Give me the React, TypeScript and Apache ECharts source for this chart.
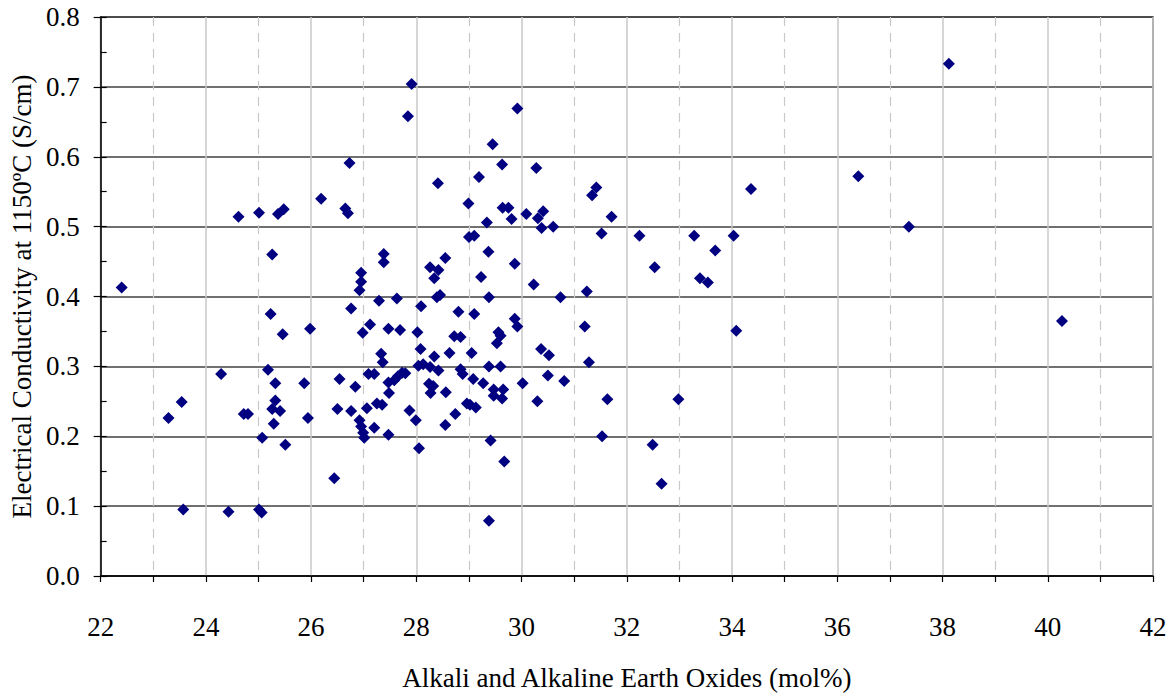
import React, { useEffect, useRef } from "react";
import * as echarts from "echarts";

// Alkali and alkaline earth oxides (mol%)
const oxides: number[] = [
  22.40, 23.29, 23.54, 23.57, 24.29, 24.43, 24.62, 24.72, 24.80, 25.01,
  25.01, 25.06, 25.07, 25.18, 25.23, 25.26, 25.26, 25.29, 25.32, 25.32,
  25.37, 25.41, 25.46, 25.48, 25.51, 25.87, 25.94, 25.98,
  26.19, 26.44, 26.50, 26.54, 26.65, 26.70, 26.73, 26.76, 26.76, 26.84,
  26.92, 26.95, 26.95, 26.92, 26.98, 26.95, 26.99, 27.01, 27.06, 27.09,
  27.12, 27.20, 27.20, 27.25, 27.29, 27.33, 27.36, 27.35, 27.38, 27.38,
  27.47, 27.47, 27.48, 27.47, 27.58, 27.65, 27.73, 27.79, 27.63, 27.69,
  27.84, 27.87, 27.91, 27.99, 28.02, 28.04, 28.05, 28.08, 28.09, 28.13,
  28.24, 28.26, 28.26, 28.27, 28.32, 28.34, 28.34, 28.39, 28.41, 28.42,
  28.42, 28.45, 28.55, 28.56, 28.55, 28.63, 28.72, 28.74, 28.80, 28.84,
  28.84, 28.88, 28.96, 28.99, 29.00, 29.02, 29.05, 29.10, 29.10, 29.08,
  29.13, 29.19, 29.23, 29.27, 29.34, 29.37, 29.38, 29.38, 29.41, 29.38,
  29.45, 29.47, 29.47, 29.53, 29.56, 29.60, 29.60, 29.63, 29.64, 29.65,
  29.63, 29.67, 29.75, 29.81, 29.87, 29.87, 29.92, 29.92, 30.02, 30.09,
  30.23, 30.28, 30.30, 30.31, 30.37, 30.38, 30.41, 30.50, 30.52, 30.60,
  30.74, 30.81, 31.20, 31.24, 31.28, 31.34, 31.42, 31.52, 31.53, 31.63,
  31.71, 32.24, 32.49, 32.53, 32.66, 32.98, 33.28, 33.39, 33.54, 33.68,
  34.03, 34.08, 34.36, 36.40, 37.36, 38.12, 40.27,
];

// Electrical conductivity at 1150 ºC (S/cm)
const conductivity: number[] = [
  0.413, 0.226, 0.249, 0.095, 0.289, 0.092, 0.514, 0.232, 0.232, 0.520,
  0.095, 0.091, 0.198, 0.295, 0.375, 0.460, 0.239, 0.218, 0.276, 0.251,
  0.518, 0.236, 0.346, 0.525, 0.188, 0.276, 0.226, 0.354,
  0.540, 0.140, 0.239, 0.282, 0.526, 0.519, 0.591, 0.383, 0.236, 0.271,
  0.223, 0.434, 0.421, 0.409, 0.348, 0.214, 0.205, 0.198, 0.240, 0.289,
  0.360, 0.289, 0.212, 0.247, 0.394, 0.318, 0.306, 0.245, 0.461, 0.449,
  0.354, 0.277, 0.262, 0.202, 0.280, 0.286, 0.291, 0.290, 0.397, 0.352,
  0.658, 0.237, 0.704, 0.223, 0.349, 0.301, 0.183, 0.325, 0.386, 0.303,
  0.275, 0.442, 0.299, 0.262, 0.272, 0.426, 0.314, 0.399, 0.562, 0.438,
  0.294, 0.402, 0.455, 0.263, 0.216, 0.319, 0.343, 0.232, 0.378, 0.342,
  0.296, 0.289, 0.247, 0.533, 0.485, 0.245, 0.319, 0.487, 0.375, 0.282,
  0.241, 0.571, 0.428, 0.276, 0.506, 0.464, 0.399, 0.300, 0.194, 0.079,
  0.618, 0.267, 0.258, 0.333, 0.349, 0.344, 0.300, 0.589, 0.527, 0.267,
  0.254, 0.164, 0.527, 0.511, 0.447, 0.368, 0.669, 0.357, 0.276, 0.518,
  0.417, 0.584, 0.250, 0.512, 0.325, 0.498, 0.522, 0.287, 0.316, 0.500,
  0.399, 0.279, 0.357, 0.407, 0.306, 0.545, 0.556, 0.490, 0.200, 0.253,
  0.514, 0.487, 0.188, 0.442, 0.132, 0.253, 0.487, 0.426, 0.420, 0.466,
  0.487, 0.351, 0.554, 0.572, 0.500, 0.733, 0.365,
];

const xTitle = "Alkali and Alkaline Earth Oxides (mol%)";
const yTitle = "Electrical Conductivity at 1150ºC (S/cm)";

const FONT = "Liberation Serif";

export default function App() {
  const ref = useRef<HTMLDivElement>(null);

  useEffect(() => {
    const chart = echarts.init(ref.current!, null, { renderer: "svg" });
    const points = oxides.map((x, i) => [x, conductivity[i]]);
    chart.setOption({
      animation: false,
      backgroundColor: "#ffffff",
      textStyle: { fontFamily: FONT },
      grid: {
        left: 98,
        right: 19,
        top: 17,
        bottom: 113,
        show: true,
        borderColor: "#404040",
        borderWidth: 1.5,
      },
      xAxis: [
        {
          type: "value",
          min: 22,
          max: 42,
          interval: 2,
          name: xTitle,
          nameLocation: "middle",
          nameGap: 88,
          nameTextStyle: { fontFamily: FONT, fontSize: 27, color: "#000" },
          axisLine: { show: true, onZero: false, lineStyle: { color: "#000", width: 1.5 } },
          axisTick: { show: false },
          axisLabel: { fontFamily: FONT, fontSize: 27, color: "#000", margin: 37 },
          splitLine: { show: true, lineStyle: { color: "#c8c8c8", width: 1.5 } },
        },
        {
          type: "value",
          min: 22,
          max: 42,
          interval: 1,
          position: "bottom",
          offset: 0,
          axisLine: { show: false, onZero: false },
          axisLabel: { show: false },
          axisTick: { show: true, length: 6, lineStyle: { color: "#000", width: 1.2 } },
          splitLine: {
            show: true,
            lineStyle: { color: ["transparent", "#c8c8c8"], width: 1.2, type: [9, 7] },
          },
        },
      ],
      yAxis: [
        {
          type: "value",
          min: 0,
          max: 0.8,
          interval: 0.1,
          name: yTitle,
          nameLocation: "middle",
          nameGap: 62,
          nameRotate: 90,
          nameTextStyle: { fontFamily: FONT, fontSize: 27, color: "#000" },
          axisLine: { show: true, onZero: false, lineStyle: { color: "#000", width: 1.5 } },
          axisTick: { show: true, length: 7, lineStyle: { color: "#000", width: 1.2 } },
          axisLabel: {
            fontFamily: FONT,
            fontSize: 27,
            color: "#000",
            margin: 21,
            formatter: (v: number) => v.toFixed(1),
          },
          splitLine: { show: true, lineStyle: { color: "#404040", width: 1.5 } },
        },
        {
          type: "value",
          min: 0,
          max: 0.8,
          interval: 0.05,
          position: "left",
          offset: 0,
          axisLine: { show: false, onZero: false },
          axisLabel: { show: false },
          splitLine: { show: false },
          axisTick: { show: true, inside: true, length: 6, lineStyle: { color: "#000", width: 1.2 } },
        },
      ],
      series: [
        {
          type: "scatter",
          xAxisIndex: 0,
          yAxisIndex: 0,
          symbol: "diamond",
          symbolSize: 12,
          itemStyle: { color: "#000080", opacity: 1 },
          data: points,
          z: 5,
        },
      ],
    });
    return () => chart.dispose();
  }, []);

  return (
    <div
      ref={ref}
      style={{ position: "fixed", left: 0, top: 0, width: 1172, height: 696, background: "#fff" }}
    />
  );
}
